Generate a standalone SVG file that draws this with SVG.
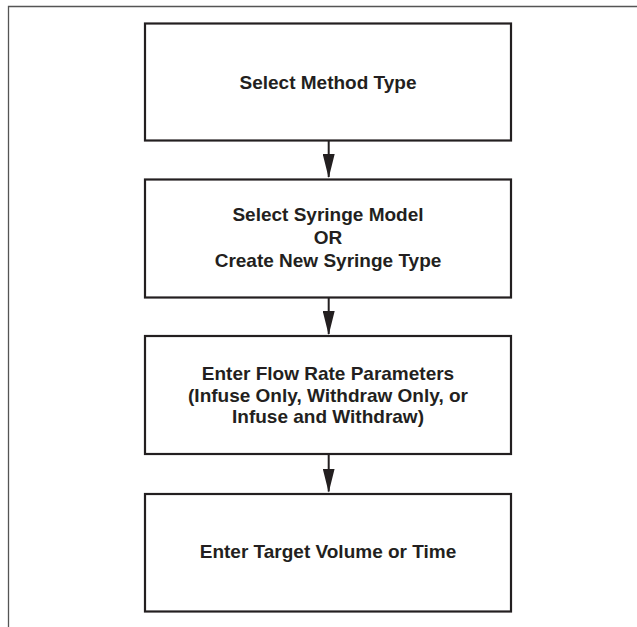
<svg xmlns="http://www.w3.org/2000/svg" width="637" height="627" viewBox="0 0 637 627">
<style>
.box{fill:#fff;stroke:#231f20;stroke-width:2.2}
.t{font-family:"Liberation Sans",Arial,sans-serif;font-weight:bold;font-size:19px;fill:#231f20;text-anchor:middle}
.c{stroke:#231f20;stroke-width:2;fill:none}
.frame{stroke:#555;stroke-width:1.3;fill:none}
</style>
<defs>
<marker id="ah" markerUnits="userSpaceOnUse" markerWidth="24" markerHeight="12" refX="23" refY="6" orient="auto" viewBox="0 0 24 12">
<path d="M0,0 L24,6 L0,12 Z" fill="#231f20"/>
</marker>
</defs>
<rect width="637" height="627" fill="#fff"/>
<path class="frame" d="M8.5,627 V6.5 H637"/>
<g id="n1"><rect class="box" x="145" y="23.5" width="366" height="117"/><text class="t" x="328" y="88.5">Select Method Type</text></g>
<g id="n2"><rect class="box" x="145" y="179.5" width="366" height="118"/><text class="t" x="328" y="221.3">Select Syringe Model</text><text class="t" x="328" y="244">OR</text><text class="t" x="328" y="266.7">Create New Syringe Type</text></g>
<g id="n3"><rect class="box" x="145" y="336" width="366" height="118"/><text class="t" x="328" y="380">Enter Flow Rate Parameters</text><text class="t" x="328" y="401.7">(Infuse Only, Withdraw Only, or</text><text class="t" x="328" y="423.3">Infuse and Withdraw)</text></g>
<g id="n4"><rect class="box" x="145" y="494" width="366" height="117.5"/><text class="t" x="328" y="557.7">Enter Target Volume or Time</text></g>
<g id="connectors">
<line class="c" x1="328.7" y1="141" x2="328.7" y2="177" marker-end="url(#ah)"/>
<line class="c" x1="328.7" y1="298" x2="328.7" y2="334" marker-end="url(#ah)"/>
<line class="c" x1="328.7" y1="455" x2="328.7" y2="491.5" marker-end="url(#ah)"/>
</g>
</svg>
